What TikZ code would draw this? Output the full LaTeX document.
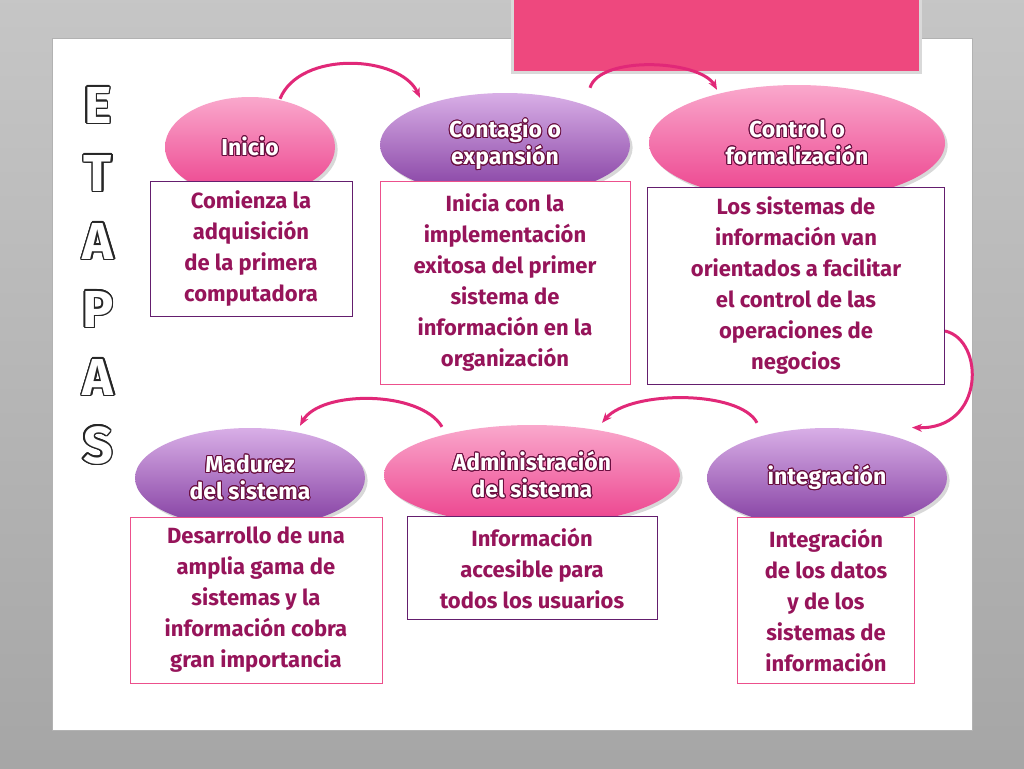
\documentclass[tikz,border=0pt]{standalone}
\usepackage{fontspec}
\setmainfont{Fira Sans}
\usepackage{contour}
\contourlength{1pt}
\usetikzlibrary{shapes.geometric,arrows.meta,positioning,calc,shadows}
\definecolor{pinkA}{RGB}{246,110,170}
\definecolor{pinkB}{RGB}{236,64,140}
\definecolor{lilaA}{RGB}{200,140,220}
\definecolor{lilaB}{RGB}{130,60,160}
\definecolor{txtdark}{RGB}{150,20,90}
\definecolor{bordpink}{RGB}{236,80,140}
\definecolor{bordlila}{RGB}{100,30,110}
\definecolor{arrowc}{RGB}{225,40,120}
\tikzset{
  etapa/.style={ellipse,minimum width=#1,font=\bfseries\fontsize{23}{27}\selectfont,
    text=white,align=center,inner sep=0pt,drop shadow={opacity=0.3}},
  rosa/.style={top color=pinkA!60!white,bottom color=pinkB},
  lila/.style={top color=lilaA!70!white,bottom color=lilaB},
  desc/.style={draw,line width=1pt,fill=white,align=center,text=txtdark,
    font=\bfseries\fontsize{22}{31}\selectfont,inner sep=3pt},
  flecha/.style={-{Stealth[length=10pt,width=8pt]},line width=3pt,arrowc}
}
\newcommand{\olab}[1]{\contour{txtdark!70!black}{#1}}
\begin{document}
\begin{tikzpicture}[x=1pt,y=-1pt]
\useasboundingbox (0,0) rectangle (1024,768);
\fill[top color=gray!45,bottom color=gray!70] (0,0) rectangle (1024,768);
\fill[white,draw=gray!60] (52,38) rectangle (972,730);
\fill[bordpink!90!red,draw=gray!30,line width=3pt] (512,-5) rectangle (920,72);
% ETAPAS
\contourlength{1.5pt}
\foreach \l [count=\i] in {E,T,A,P,A,S}
  \node[font=\bfseries\fontsize{52}{52}\selectfont,text=white] (let\i) at (98,38+\i*68) {\contour{gray!30!black}{\l}};
\contourlength{1pt}
% etapas
\node[etapa=170,minimum height=100,rosa] (inicio) at (250,147) {\olab{Inicio}};
\node[etapa=250,minimum height=104,lila] (contagio) at (505,145) {\olab{Contagio o}\\\olab{expansión}};
\node[etapa=296,minimum height=116,rosa] (control) at (797,143) {\olab{Control o}\\\olab{formalización}};
\node[etapa=230,minimum height=100,lila] (madurez) at (250,478) {\olab{Madurez}\\\olab{del sistema}};
\node[etapa=296,minimum height=100,rosa] (admin) at (532,475) {\olab{Administración}\\\olab{del sistema}};
\node[etapa=240,minimum height=100,lila] (integ) at (827,478) {\olab{integración}};
% descripciones
\node[desc,draw=bordlila,minimum width=202,minimum height=135] (dinicio) at (251,249)
  {Comienza la\\adquisición\\de la primera\\computadora};
\node[desc,draw=bordpink,minimum width=250,minimum height=203] (dcontagio) at (505,283)
  {Inicia con la\\implementación\\exitosa del primer\\sistema de\\información en la\\organización};
\node[desc,draw=bordlila,minimum width=297,minimum height=197] (dcontrol) at (796,286)
  {Los sistemas de\\información van\\orientados a facilitar\\el control de las\\operaciones de\\negocios};
\node[desc,draw=bordpink,minimum width=252,minimum height=166] (dmadurez) at (256,600)
  {Desarrollo de una\\amplia gama de\\sistemas y la\\información cobra\\gran importancia};
\node[desc,draw=bordlila,minimum width=250,minimum height=103] (dadmin) at (532,568)
  {Información\\accesible para\\todos los usuarios};
\node[desc,draw=bordpink,minimum width=177,minimum height=166] (dinteg) at (826,600)
  {Integración\\de los datos\\y de los\\sistemas de\\información};
% flechas
\draw[flecha] ($(inicio.north)+(30,2)$) .. controls (300,50) and (400,55) .. ($(contagio.north)+(-85,5)$);
\draw[flecha] ($(contagio.north)+(85,-5)$) .. controls (600,55) and (700,60) .. ($(control.north)+(-80,5)$);
\draw[flecha] ($(dcontrol.east)+(0,45)$) .. controls (985,340) and (985,430) .. ($(integ.north east)+(0,-15)$);
\draw[flecha] ($(integ.north)+(-70,-5)$) .. controls (740,390) and (630,390) .. ($(admin.north)+(70,-2)$);
\draw[flecha] ($(admin.north)+(-90,2)$) .. controls (420,390) and (320,390) .. ($(madurez.north)+(50,-2)$);
\end{tikzpicture}
\end{document}
